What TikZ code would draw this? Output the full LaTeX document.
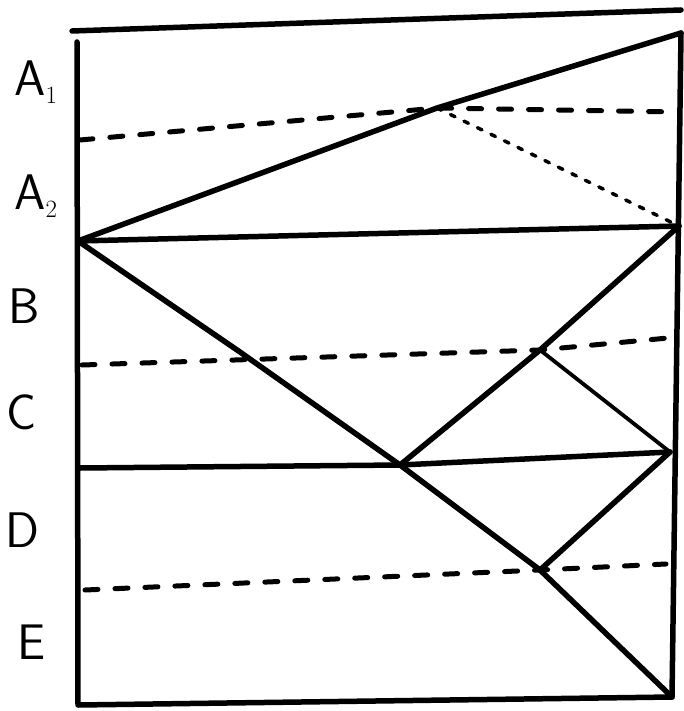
\documentclass[tikz,border=0pt]{standalone}
\begin{document}
\begin{tikzpicture}[line cap=round,line join=round,x=1pt,y=-1pt,
		trait/.style={line width=5.5pt},
		mince/.style={line width=3.8pt},
		tirets/.style={line width=5pt,dash pattern=on 13pt off 17pt},
		fin/.style={line width=3.5pt,dash pattern=on 5pt off 10pt},
		etiq/.style={font=\sffamily\fontsize{50}{54}\selectfont,inner sep=0pt}]
		\useasboundingbox (0,0) rectangle (683,711);
		% Cadre
		\coordinate (hg) at (72,31);
		\coordinate (hd) at (681,10);
		\coordinate (bd) at (672,697);
		\coordinate (bg) at (78,705);
		\coordinate (pic) at (681,33);
		\draw[trait] (hg)--(hd);
		\draw[trait] (pic)--(bd)--(bg)--(77,42);
		% Sommets
		\coordinate (p0) at (78,241);
		\coordinate (p1) at (679,226);
		\coordinate (q0) at (80,468);
		\coordinate (q1) at (400,465);
		\coordinate (q2) at (670,452);
		\coordinate (r0) at (80,140);
		\coordinate (r1) at (437,108);
		\coordinate (r2) at (678,112);
		\coordinate (s0) at (82,365);
		\coordinate (s1) at (540,350);
		\coordinate (s2) at (668,338);
		\coordinate (t0) at (85,590);
		\coordinate (t1) at (540,570);
		\coordinate (t2) at (666,564);
		% Etage A
		\draw[trait] (p0)--(r1)--(pic);
		\draw[trait] (p0)--(p1);
		\draw[tirets] (r0)--(r1)--(r2);
		\draw[fin] (r1)--(p1);
		% Etage B et C
		\draw[trait] (p0)--(240,352)--(q1);
		\draw[trait] (q1)--(s1)--(p1);
		\draw[mince] (s1)--(q2);
		\draw[tirets] (s0)--(s1)--(s2);
		\draw[trait] (q0)--(q1)--(q2);
		% Etage D et E
		\draw[trait] (q1)--(t1)--(bd);
		\draw[trait] (t1)--(q2);
		\draw[tirets] (t0)--(t1)--(t2);
		% Etiquettes
		\node[etiq] (a1) at (36,82) {A$_1$};
		\node[etiq] (a2) at (36,196) {A$_2$};
		\node[etiq] (b) at (24,306) {B};
		\node[etiq] (c) at (22,412) {C};
		\node[etiq] (d) at (22,530) {D};
		\node[etiq] (e) at (32,642) {E};
\end{tikzpicture}
\end{document}
